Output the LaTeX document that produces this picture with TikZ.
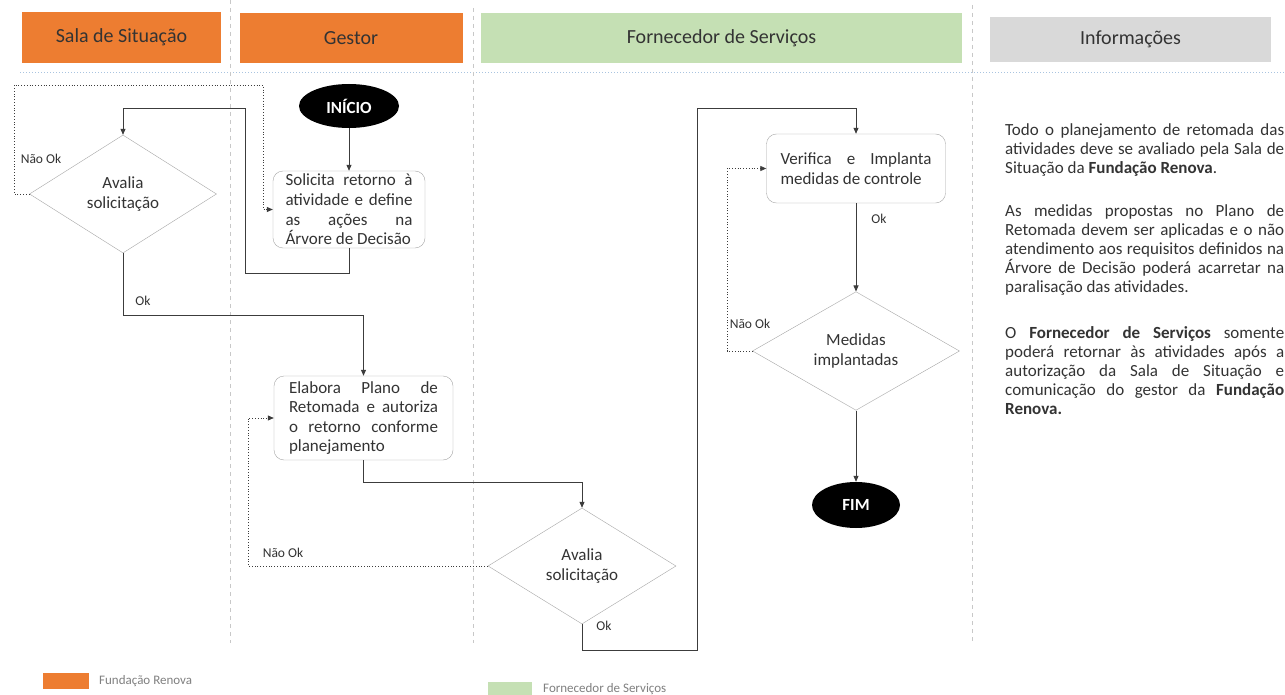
\documentclass[tikz,border=0pt]{standalone}
\usepackage{fontspec}
\setmainfont{Carlito}
\usetikzlibrary{shapes.geometric,arrows.meta}
\definecolor{orangeR}{HTML}{ED7D31}
\definecolor{greenF}{HTML}{C5E0B4}
\definecolor{grayI}{HTML}{D9D9D9}
\definecolor{lineC}{HTML}{3C3C3C}
\definecolor{borderC}{HTML}{A6A6A6}
\definecolor{laneC}{HTML}{C8C8C8}
\definecolor{hdash}{HTML}{A9C4E0}
\definecolor{txtC}{HTML}{333333}
\tikzset{
  hdr/.style={inner sep=0pt, text=txtC, font=\fontsize{20}{24}\selectfont},
  lane/.style={draw=laneC, dashed, dash pattern=on 4pt off 4pt, line width=0.8pt},
  procbox/.style={draw=borderC, rounded corners=10pt, fill=white, align=justify, text=txtC,
     font=\fontsize{17}{19.6}\selectfont, inner ysep=0pt},
  decis/.style={diamond, draw=borderC, fill=white, align=center, inner sep=0pt, text=txtC,
     font=\fontsize{17}{19.5}\selectfont},
  term/.style={ellipse, fill=black, text=white, inner sep=0pt, font=\bfseries\fontsize{17}{20}\selectfont},
  flow/.style={draw=lineC, line width=0.8pt, -{Triangle[length=6pt,width=5pt]}},
  back/.style={draw=lineC, line width=0.8pt, dotted, -{Triangle[length=6pt,width=5pt]}},
  lbl/.style={inner sep=0pt, text=txtC, font=\fontsize{13.5}{16}\selectfont},
  info/.style={anchor=north west, inner sep=0pt, text width=279pt, align=justify, text=txtC,
     font=\fontsize{17}{19}\selectfont},
  legtxt/.style={anchor=west, inner sep=0pt, text=gray, font=\fontsize{13}{15}\selectfont}
}
\begin{document}
\begin{tikzpicture}[x=1pt,y=-1pt]
\useasboundingbox (0,0) rectangle (1285,695);
\fill[white] (0,0) rectangle (1285,695);

% headers
\node[hdr, fill=orangeR, minimum width=199pt, minimum height=51pt] (hSala) at (121.5,37.5) {Sala de Situação};
\node[hdr, fill=orangeR, minimum width=223pt, minimum height=50pt] (hGestor) at (351,38) {Gestor};
\node[hdr, fill=greenF, minimum width=481pt, minimum height=50pt] (hForn) at (721.5,38) {Fornecedor de Serviços};
\node[hdr, fill=grayI, minimum width=281pt, minimum height=45pt] (hInfo) at (1130.5,39.5) {Informações};

% lanes
\draw[hdash, dotted, line width=1pt] (20,72.5) -- (1285,72.5);
\draw[lane] (230,0) -- (230,643);
\draw[lane] (473,8) -- (473,643);
\draw[lane] (972,5) -- (972,643);

% nodes
\node[term, minimum width=100pt, minimum height=44pt] (inicio) at (349,106) {INÍCIO};
\node[procbox, text width=127pt, inner xsep=12.5pt, minimum height=77pt] (solicita) at (349,209.5)
  {Solicita retorno à\linebreak atividade e define\linebreak as ações na\linebreak Árvore de Decisão};
\node[decis, minimum width=187pt, minimum height=118pt] (av1) at (123,194) {Avalia\\solicitação};
\node[procbox, text width=149pt, inner xsep=15pt, minimum height=84pt] (elabora) at (363.5,418)
  {Elabora Plano de\linebreak Retomada e autoriza\linebreak o retorno conforme\linebreak planejamento};
\node[decis, minimum width=188pt, minimum height=116pt] (av2) at (582,566) {Avalia\\solicitação};
\node[procbox, text width=151pt, inner xsep=14pt, minimum height=69pt] (verifica) at (856,168.5)
  {Verifica e Implanta\linebreak medidas de controle};
\node[decis, minimum width=207pt, minimum height=117pt] (med) at (856,351) {Medidas\\implantadas};
\node[term, minimum width=88pt, minimum height=46pt] (fim) at (856,505) {FIM};

% bend coordinates
\coordinate (c1) at (245,273);
\coordinate (c2) at (123,108);
\coordinate (d1) at (14,85);
\coordinate (d2) at (263,85);
\coordinate (c3) at (363.5,315);
\coordinate (c4) at (582,482);
\coordinate (d3) at (248,418);
\coordinate (c5) at (697,650);
\coordinate (c6) at (697,108);
\coordinate (d4) at (727,168.5);

% connectors
\draw[flow] (inicio) -- (solicita);
\draw[flow] (solicita.south) |- (c1) |- (c2) -- (av1.north);
\draw[back] (av1.west) -| (d1) -- (d2) |- (solicita.west);
\draw[flow] (av1.south) |- (c3) -- (elabora.north);
\draw[flow] (elabora.south) |- (c4) -- (av2.north);
\draw[back] (av2.west) -| (d3) -- (elabora.west);
\draw[flow] (av2.south) |- (c5) -- (c6) -| (verifica.north);
\draw[flow] (verifica.south) -- (med.north);
\draw[back] (med.west) -| (d4) -- (verifica.west);
\draw[flow] (med.south) -- (fim.north);

% labels
\node[lbl] (l1) at (41,159) {Não Ok};
\node[lbl] (l2) at (143,301) {Ok};
\node[lbl] (l3) at (283,553) {Não Ok};
\node[lbl] (l4) at (604,626) {Ok};
\node[lbl] (l5) at (879,219) {Ok};
\node[lbl] (l6) at (750,324) {Não Ok};

% information text
\node[info] (p1) at (1005,123)
  {Todo o planejamento de retomada das\linebreak atividades deve se avaliado pela Sala de\linebreak Situação da \textbf{Fundação Renova}.};
\node[info] (p2) at (1005,204)
  {As medidas propostas no Plano de\linebreak Retomada devem ser aplicadas e o não\linebreak atendimento aos requisitos definidos na\linebreak Árvore de Decisão poderá acarretar na\linebreak paralisação das atividades.};
\node[info] (p3) at (1005,326)
  {O \textbf{Fornecedor de Serviços} somente\linebreak poderá retornar às atividades após a\linebreak autorização da Sala de Situação e\linebreak comunicação do gestor da \textbf{Fundação\linebreak Renova.}};

% legend
\node[fill=orangeR, inner sep=0pt, minimum width=46pt, minimum height=16pt] (swO) at (66,681) {};
\node[legtxt] (tO) at (99,681) {Fundação Renova};
\node[fill=greenF, inner sep=0pt, minimum width=44pt, minimum height=14pt] (swG) at (510,689) {};
\node[legtxt] (tG) at (543,689) {Fornecedor de Serviços};
\end{tikzpicture}
\end{document}
